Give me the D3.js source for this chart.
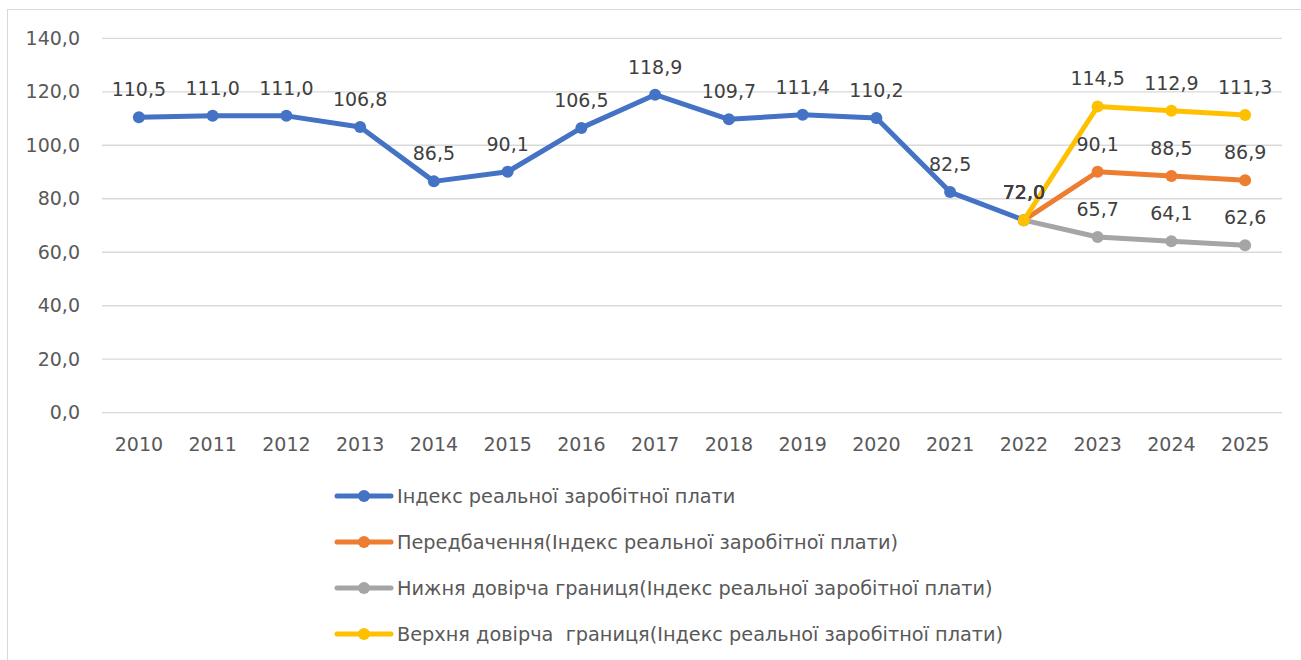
<!DOCTYPE html>
<html>
<head>
<meta charset="utf-8">
<script src="https://cdn.jsdelivr.net/npm/d3@7"></script>
<style>
  body { margin: 0; background: #fff; }
  svg text { font-family: "DejaVu Sans", sans-serif; }
</style>
</head>
<body>
<svg id="chart" width="1301" height="660"></svg>
<script>
// years on the x axis
const years = ["2010","2011","2012","2013","2014","2015","2016","2017",
               "2018","2019","2020","2021","2022","2023","2024","2025"];

// real wage index, actual
const actualYears = ["2010","2011","2012","2013","2014","2015","2016","2017",
                     "2018","2019","2020","2021","2022"];
const actual = [110.5, 111.0, 111.0, 106.8, 86.5, 90.1, 106.5, 118.9,
                109.7, 111.4, 110.2, 82.5, 72.0];

// forecast and bounds
const forecastYears = ["2022","2023","2024","2025"];
const forecast = [72.0, 90.1, 88.5, 86.9];
const lowerBound = [72.0, 65.7, 64.1, 62.6];
const upperBound = [72.0, 114.5, 112.9, 111.3];

const yTicks = [0, 20, 40, 60, 80, 100, 120, 140];

const seriesNames = [
  "Індекс реальної заробітної плати",
  "Передбачення(Індекс реальної заробітної плати)",
  "Нижня довірча границя(Індекс реальної заробітної плати)",
  "Верхня довірча  границя(Індекс реальної заробітної плати)"
];
const colors = ["#4472C4", "#ED7D31", "#A5A5A5", "#FFC000"];

const series = [
  { name: seriesNames[0], x: actualYears, y: actual, color: colors[0] },
  { name: seriesNames[1], x: forecastYears, y: forecast, color: colors[1] },
  { name: seriesNames[2], x: forecastYears, y: lowerBound, color: colors[2] },
  { name: seriesNames[3], x: forecastYears, y: upperBound, color: colors[3] }
];

const svg = d3.select("#chart");

// chart frame
svg.append("rect")
    .attr("x", 7.5).attr("y", 9.5)
    .attr("width", 1310).attr("height", 670)
    .attr("fill", "none")
    .attr("stroke", "#D9D9D9")
    .attr("stroke-width", 1);

const x = d3.scaleBand().domain(years).range([102, 1282]);
const y = d3.scaleLinear().domain([0, 140]).range([412.7, 38.3]);
const fmt = v => d3.format(".1f")(v).replace(".", ",");

// grid lines
svg.append("g")
  .selectAll("line")
  .data(yTicks)
  .join("line")
    .attr("x1", 102).attr("x2", 1282)
    .attr("y1", d => y(d)).attr("y2", d => y(d))
    .attr("stroke", "#D9D9D9")
    .attr("stroke-width", 1.3);

// y axis labels
const yAxis = svg.append("g")
    .attr("transform", "translate(102,0)")
    .call(d3.axisLeft(y).tickValues(yTicks).tickFormat(fmt).tickSize(0).tickPadding(22));
yAxis.select(".domain").remove();
yAxis.selectAll("text")
    .attr("fill", "#595959")
    .style("font-size", "19px");

// x axis labels
const xAxis = svg.append("g")
    .attr("transform", "translate(0,412.7)")
    .call(d3.axisBottom(x).tickSize(0).tickPadding(25));
xAxis.select(".domain").remove();
xAxis.selectAll("text")
    .attr("fill", "#595959")
    .style("font-size", "19px");

const cx = d => x(d) + x.bandwidth() / 2;

const line = d3.line()
    .x(d => cx(d[0]))
    .y(d => y(d[1]));

series.forEach(s => {
  const pts = s.x.map((yr, i) => [yr, s.y[i]]);
  const g = svg.append("g");
  g.append("path")
      .datum(pts)
      .attr("d", line)
      .attr("fill", "none")
      .attr("stroke", s.color)
      .attr("stroke-width", 5)
      .attr("stroke-linejoin", "round");
  g.selectAll("circle")
    .data(pts)
    .join("circle")
      .attr("cx", d => cx(d[0]))
      .attr("cy", d => y(d[1]))
      .attr("r", 6)
      .attr("fill", s.color);
});

// data labels on top
series.forEach(s => {
  const pts = s.x.map((yr, i) => [yr, s.y[i]]);
  svg.append("g")
    .selectAll("text")
    .data(pts)
    .join("text")
      .attr("x", d => cx(d[0]))
      .attr("y", d => y(d[1]) - 21)
      .attr("text-anchor", "middle")
      .attr("fill", "#404040")
      .style("font-size", "19px")
      .text(d => fmt(d[1]));
});

// legend
const legend = svg.append("g")
  .selectAll("g")
  .data(series)
  .join("g")
    .attr("transform", (d, i) => `translate(337,${496 + i * 46})`);
legend.append("line")
    .attr("x1", 0).attr("x2", 54)
    .attr("stroke", d => d.color)
    .attr("stroke-width", 5)
    .attr("stroke-linecap", "round");
legend.append("circle")
    .attr("cx", 27).attr("r", 6)
    .attr("fill", d => d.color);
legend.append("text")
    .attr("x", 60).attr("dy", "0.35em")
    .attr("fill", "#595959")
    .style("font-size", "19.3px")
    .style("white-space", "pre")
    .text(d => d.name);
</script>
</body>
</html>
